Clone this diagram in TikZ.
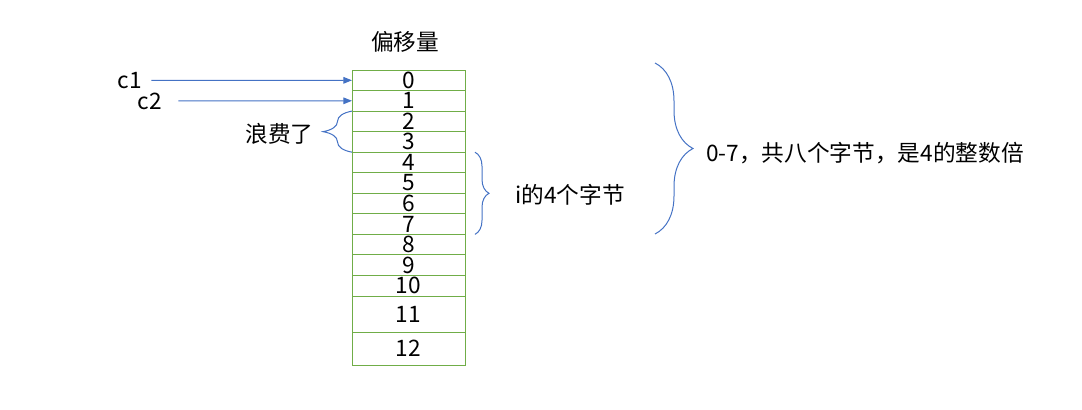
\documentclass[tikz,border=0pt]{standalone}
\usepackage{fontspec}
\setmainfont{Noto Sans CJK SC}
\usetikzlibrary{arrows.meta,positioning,decorations.pathreplacing}
\definecolor{cellgreen}{RGB}{112,173,71}
\definecolor{linkblue}{RGB}{68,114,196}

\begin{document}
\begin{tikzpicture}[x=0.75pt, y=-0.75pt,
  cell/.style={rectangle, draw=cellgreen, line width=0.75pt, minimum width=84.75pt, minimum height=15.41pt, inner sep=0pt, outer sep=0pt, font=\fontsize{17}{17}\selectfont},
  bigcell/.style={cell, minimum height=#1},
  txt/.style={inner sep=0pt, font=\fontsize{17}{17}\selectfont},
  ptr/.style={draw=linkblue, line width=0.75pt, -{Triangle[length=6.5pt, width=5pt]}},
  wrap/.style={draw=linkblue, line width=0.75pt, decorate}
]
\useasboundingbox (0,0) rectangle (1082,410);

% Title
\node[txt] (title) at (405,42) {偏移量};

% Memory cells 0 to 12
\node[cell] (n0) at (408.5,80.3) {0};
\node[cell] (n1) at (408.5,100.8) {1};
\node[cell] (n2) at (408.5,121.4) {2};
\node[cell] (n3) at (408.5,141.9) {3};
\node[cell] (n4) at (408.5,162.5) {4};
\node[cell] (n5) at (408.5,183.0) {5};
\node[cell] (n6) at (408.5,203.6) {6};
\node[cell] (n7) at (408.5,224.1) {7};
\node[cell] (n8) at (408.5,244.7) {8};
\node[cell] (n9) at (408.5,265.2) {9};
\node[cell] (n10) at (408.5,285.8) {10};
\node[bigcell=27pt] (n11) at (408.5,314) {11};
\node[bigcell=24.75pt] (n12) at (408.5,348.5) {12};

% Members
\node[txt] (c1) at (130,80.5) {c1};
\node[txt] (c2) at (150,101) {c2};
\draw[ptr, shorten <=6.75pt] (c1.east) -- (n0.west);
\draw[ptr, shorten <=12pt] (c2.east) -- (n1.west);

% Braces
\draw[wrap, decoration={brace, amplitude=21.75pt}] (n3.south west) -- (n2.north west);
\draw[wrap, decoration={brace, amplitude=10.5pt}] ([xshift=7.5pt]n4.north east) -- ([xshift=7.5pt]n7.south east);
\coordinate (btop) at (655,63);
\coordinate (bbot) at (655,234);
\draw[wrap, decoration={brace, amplitude=28.5pt}] (btop) -- (bbot);

% Notes
\node[txt] (waste) at (279.5,134) {浪费了};
\node[txt, anchor=west] (ibytes) at (515,195) {i的4个字节};
\node[txt, anchor=west] (total) at (706,153) {0-7，共八个字节，是4的整数倍};
\end{tikzpicture}
\end{document}
